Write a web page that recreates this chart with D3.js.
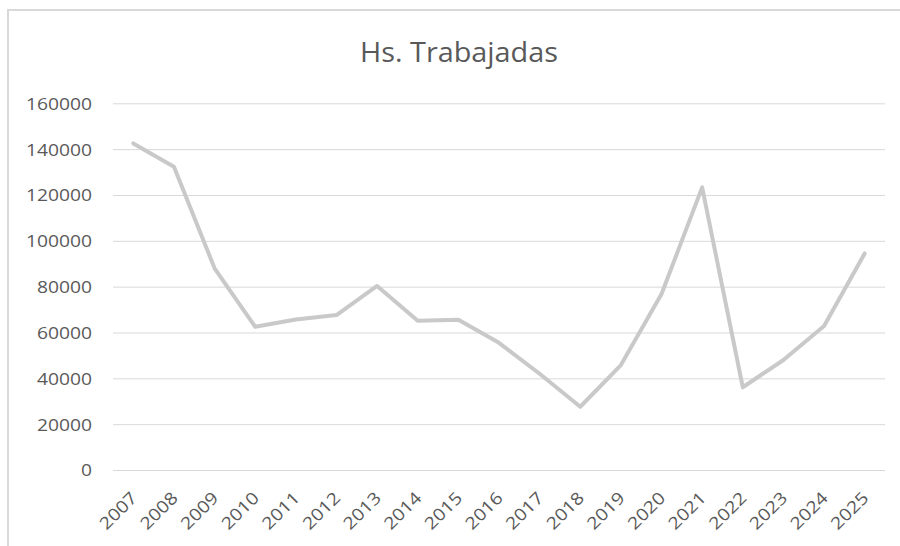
<!DOCTYPE html>
<html><head><meta charset="utf-8">
<script src="https://cdn.jsdelivr.net/npm/d3@7"></script>
<style>html,body{margin:0;padding:0;background:#fff;overflow:hidden}</style>
</head><body>
<svg id="chart" width="900" height="546"></svg>
<script>
const years = ["2007","2008","2009","2010","2011","2012","2013","2014","2015","2016","2017","2018","2019","2020","2021","2022","2023","2024","2025"];
const hours = [142500,132300,88000,62500,65700,67600,80300,65100,65600,55500,42000,27600,45800,76800,123300,36100,48000,62800,94500];
const yTicks = [0,20000,40000,60000,80000,100000,120000,140000,160000];
const title = "Hs. Trabajadas";

const svg = d3.select("#chart");
const W = 900, H = 546;
const font = "'Open Sans', sans-serif";
const txt = "#595959";

svg.append("rect").attr("width",W).attr("height",H).attr("fill","#fff");
svg.append("rect").attr("x",8).attr("y",10).attr("width",1000).attr("height",600)
  .attr("fill","none").attr("stroke","#d9d9d9").attr("stroke-width",2);

const x = d3.scaleBand().domain(years).range([113, 885]);
const y = d3.scaleLinear().domain([0,160000]).range([470, 103.3]);

svg.append("text").attr("x",459).attr("y",62).attr("text-anchor","middle")
  .attr("font-family",font).attr("font-size",27.5).attr("fill",txt)
  .attr("textLength",198).attr("lengthAdjust","spacingAndGlyphs").text(title);

// gridlines + y labels
const yAxis = d3.axisLeft(y).tickValues(yTicks).tickSize(-(885-113)).tickFormat(d=>String(d)).tickPadding(20);
const gy = svg.append("g").attr("transform","translate(113,0)").call(yAxis);
gy.select(".domain").remove();
gy.selectAll(".tick line").attr("stroke","#d9d9d9").attr("stroke-width",1);
gy.selectAll(".tick text").attr("font-family",font).attr("font-size",17).attr("fill",txt)
  .attr("x",-21).attr("dy","0.35em")
  .each(function(){ const t=d3.select(this); t.attr("textLength", t.text().length*11).attr("lengthAdjust","spacingAndGlyphs"); });

// x labels
const xAxis = d3.axisBottom(x).tickSize(0).tickPadding(0);
const gx = svg.append("g").attr("transform","translate(0,470)").call(xAxis);
gx.select(".domain").remove();
gx.selectAll(".tick text").attr("font-family",font).attr("font-size",17).attr("fill",txt)
  .attr("text-anchor","end").attr("y",0).attr("dy",0)
  .attr("transform","translate(5,29) rotate(-45)")
  .attr("textLength",45).attr("lengthAdjust","spacingAndGlyphs");

const line = d3.line().x((d,i)=>x(years[i])+x.bandwidth()/2).y(d=>y(d));
svg.append("path").datum(hours).attr("d",line).attr("fill","none")
  .attr("stroke","#c9c9c9").attr("stroke-width",4).attr("stroke-linejoin","round").attr("stroke-linecap","round");
</script>
</body></html>
